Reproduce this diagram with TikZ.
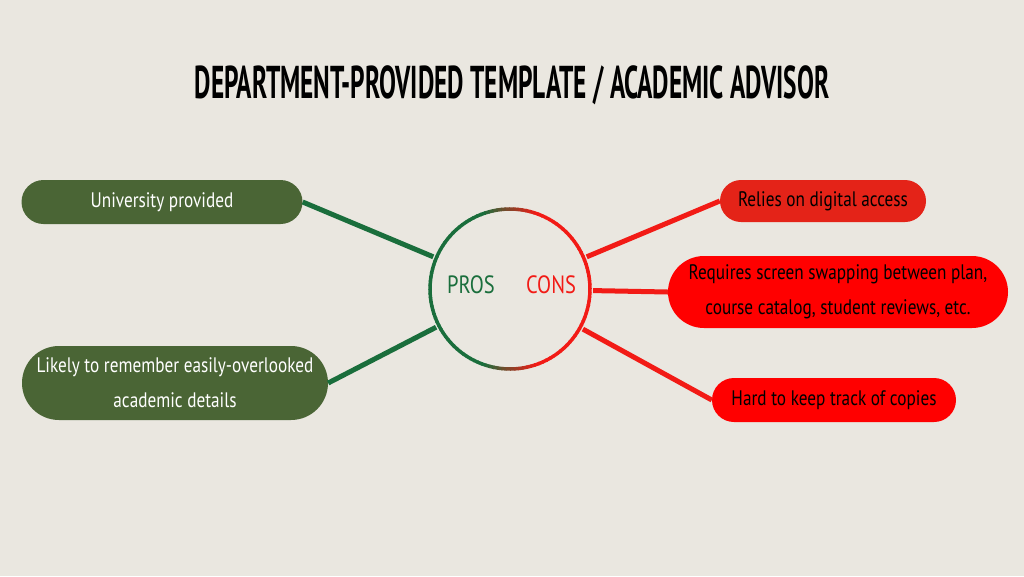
\documentclass[tikz,border=0pt]{standalone}
\usepackage{fontspec}
\setmainfont[FakeStretch=0.82]{PT Sans}
\newfontfamily\titlefont[FakeStretch=0.55]{PT Sans}
\usetikzlibrary{shapes.misc}

\definecolor{paper}{HTML}{EAE7E0}
\definecolor{proleaf}{HTML}{4A6535}
\definecolor{proline}{HTML}{1A6E3C}
\definecolor{conleaf}{HTML}{E42318}
\definecolor{conleafb}{HTML}{FF0000}
\definecolor{conline}{HTML}{F21B16}

\begin{document}
\begin{tikzpicture}[
  x=1pt, y=-1pt,
  every node/.style={align=center, font=\fontsize{21}{35}\selectfont},
  pro/.style={rounded rectangle, fill=proleaf, text=white, inner sep=0pt},
  con/.style={rounded rectangle, fill=conleafb, text=black, inner sep=0pt},
  greenlink/.style={draw=proline, line width=5pt},
  redlink/.style={draw=conline, line width=5pt}
]
  \fill[paper] (0,0) rectangle (1024,576);
  \useasboundingbox (0,0) rectangle (1024,576);

  % Title
  \node[font=\titlefont\bfseries\fontsize{46}{46}\selectfont] (title) at (512,85)
    {DEPARTMENT-PROVIDED TEMPLATE / ACADEMIC ADVISOR};

  % Hub
  \node[circle, minimum size=166pt, inner sep=0pt] (hub) at (510,289) {};
  \node[text=proline, font=\fontsize{25}{25}\selectfont] (pros) at (471,285) {PROS};
  \node[text=conline, font=\fontsize{25}{25}\selectfont] (cons) at (551,285) {CONS};

  % Pros
  \node[pro, minimum width=281pt, minimum height=44pt] (uni) at (162,202) {University provided};
  \node[pro, minimum width=306pt, minimum height=74pt] (details) at (175,383)
    {Likely to remember easily-overlooked\\academic details};

  % Cons
  \node[con, fill=conleaf, minimum width=206pt, minimum height=42pt] (digital) at (823,201)
    {Relies on digital access};
  \node[con, minimum width=340pt, minimum height=72pt] (swap) at (838,292)
    {Requires screen swapping between plan,\\course catalog, student reviews, etc.};
  \node[con, minimum width=244pt, minimum height=44pt] (copies) at (834,400)
    {Hard to keep track of copies};

  \draw[greenlink] (hub) -- (uni.east);
  \draw[greenlink] (hub) -- (details.east);
  \draw[redlink] (hub) -- (digital.west);
  \draw[redlink] (hub) -- (swap.west);
  \draw[redlink] (hub) -- (copies.west);

  % Ring, green to red
  \foreach \a in {0,3,...,357} {
    \pgfmathsetmacro\p{max(0,min(100,50+150*cos(\a+1.5)))}
    \draw[line width=3.5pt, conline!\p!proline]
      (hub.center) ++(\a:80pt) arc[start angle=\a, end angle=\a+3.6, radius=80pt];
  }
\end{tikzpicture}
\end{document}
